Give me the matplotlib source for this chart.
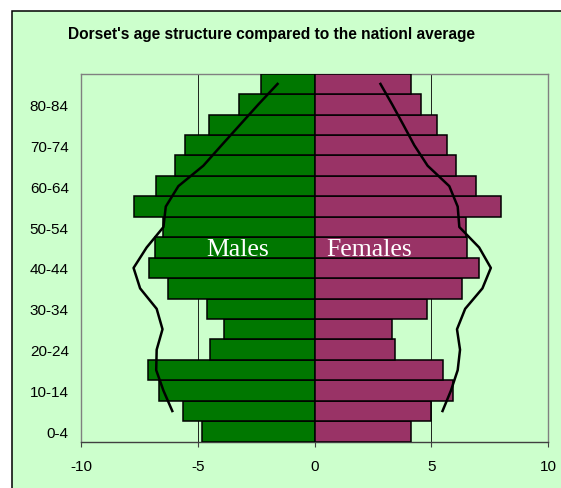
import matplotlib
matplotlib.use("Agg")
import matplotlib.pyplot as plt
from matplotlib.patches import Rectangle

# ---- data ----
categories = ["0-4", "5-9", "10-14", "15-19", "20-24", "25-29", "30-34", "35-39",
              "40-44", "45-49", "50-54", "55-59", "60-64", "65-69", "70-74",
              "75-79", "80-84", "85+"]
males = [4.82, 5.63, 6.65, 7.15, 4.50, 3.87, 4.63, 6.30, 7.09, 6.85,
         6.52, 7.76, 6.79, 5.97, 5.54, 4.54, 3.26, 2.28]
females = [4.13, 5.00, 5.93, 5.50, 3.45, 3.32, 4.82, 6.31, 7.05, 6.55,
           6.48, 7.98, 6.91, 6.05, 5.68, 5.24, 4.57, 4.13]
# national average lines (drawn from 5-9 up to 85+)
line_categories = categories[1:]
nat_males = [6.10, 6.48, 6.79, 6.77, 6.52, 6.77, 7.48, 7.76, 7.20,
             6.48, 6.38, 5.84, 4.77, 3.99, 3.20, 2.41, 1.59]
nat_females = [5.48, 5.84, 6.13, 6.23, 6.10, 6.45, 7.19, 7.55, 7.05,
               6.20, 6.13, 5.77, 4.84, 4.27, 3.80, 3.32, 2.82]
xticks = [-10, -5, 0, 5, 10]
xticklabels = ["-10", "-5", "0", "5", "10"]
title = "Dorset's age structure compared to the nationl average"

W, H = 561, 489
fig = plt.figure(figsize=(W / 100, H / 100), dpi=100, facecolor="white")

bg = "#CCFFCC"
frame = Rectangle((11.5 / W, -0.1), 1.2, (1 - 11.5 / H) + 0.1,
                  transform=fig.transFigure, facecolor=bg,
                  edgecolor="black", linewidth=1.1, zorder=-10)
fig.patches.append(frame)

left, right = 81.3 / W, 548 / W
bottom, top = (H - 442.7) / H, (H - 74.7) / H
ax = fig.add_axes([left, bottom, right - left, top - bottom])
ax.set_zorder(5)
ax.set_facecolor(bg)

ypos = list(range(len(categories)))
ax.barh(ypos, [-m for m in males], height=1.0, color="#007700",
        edgecolor="black", linewidth=1.1, zorder=3)
ax.barh(ypos, females, height=1.0, color="#993366",
        edgecolor="black", linewidth=1.1, zorder=3)

line_y = [categories.index(c) for c in line_categories]
ax.plot([-v for v in nat_males], line_y, color="black", linewidth=1.8, zorder=5)
ax.plot(nat_females, line_y, color="black", linewidth=1.8, zorder=5)

ax.set_xlim(-10, 10)
ax.set_ylim(-0.5, len(categories) - 0.5)
ax.set_xticks(xticks)
ax.set_xticklabels(xticklabels, fontsize=11, family="Liberation Sans")
ax.set_yticks(ypos[::2])
ax.set_yticklabels(categories[::2], fontsize=11, family="Liberation Sans")
ax.tick_params(axis="y", length=0, pad=9)
ax.tick_params(axis="x", length=3.5, width=0.8, color="#404040", pad=9)

ax.grid(axis="x", color="black", linewidth=0.6, zorder=1)
ax.set_axisbelow(True)

for s in ["left", "top", "right"]:
    ax.spines[s].set_color("#808080")
    ax.spines[s].set_linewidth(1.0)
ax.spines["bottom"].set_color("#404040")
ax.spines["bottom"].set_linewidth(1.0)

ax.text(-3.29, 8.65, "Males", color="white", fontsize=18.5,
        family="Liberation Serif", ha="center", va="baseline", zorder=6)
ax.text(2.35, 8.65, "Females", color="white", fontsize=18.5,
        family="Liberation Serif", ha="center", va="baseline", zorder=6)

fig.text(271 / W, 1 - 35 / H, title, fontsize=11.2, fontweight="bold",
         family="Liberation Sans", ha="center", va="center", zorder=10)

fig.savefig("out.png", dpi=100, facecolor=fig.get_facecolor())
